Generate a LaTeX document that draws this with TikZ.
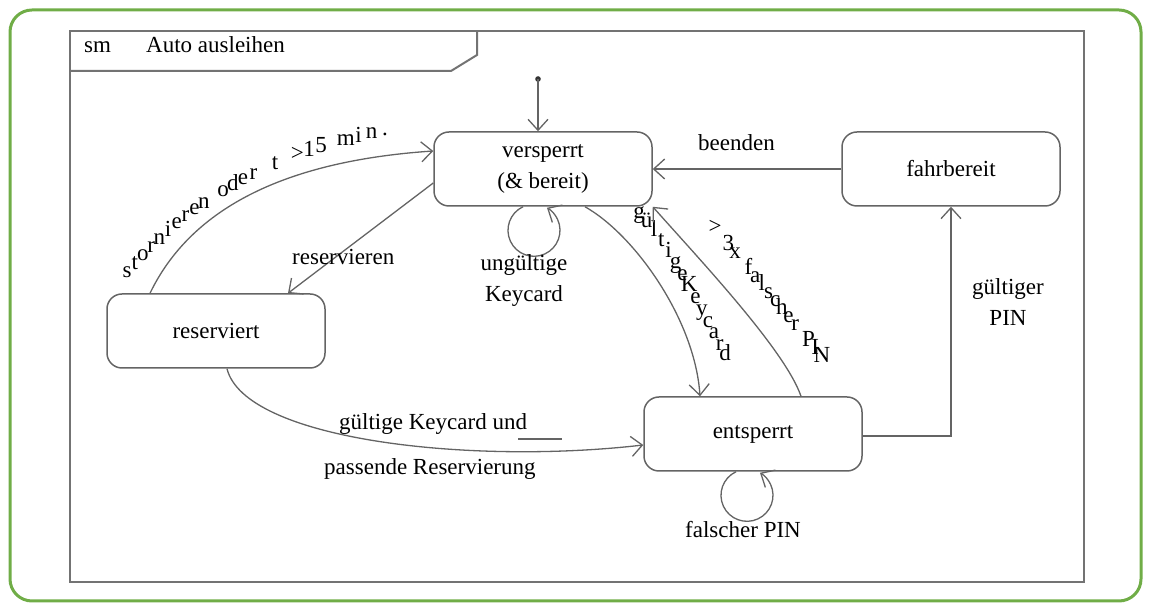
\documentclass[tikz,border=0pt]{standalone}
\usepackage{fontspec}
\setmainfont{Liberation Serif}
\usepackage{tikz}
\usetikzlibrary{arrows.meta,positioning,calc}
\definecolor{smgreen}{RGB}{112,173,71}
\definecolor{smgray}{RGB}{100,100,100}
\definecolor{smframe}{RGB}{115,115,115}
\tikzstyle{state} = [rectangle, draw=smgray, line width=1.5pt, rounded corners=15pt, minimum width=218pt, minimum height=74pt, align=center, inner sep=0pt]
\tikzstyle{trans} = [line width=1.3pt, color=smgray, -{Straight Barb[length=11pt,width=20pt]}]
\tikzstyle{lbl} = [inner sep=0pt, anchor=base west]
\tikzstyle{glyph} = [inner sep=0pt, anchor=base]

\begin{document}
\begin{tikzpicture}[x=1pt, y=1pt, font=\fontsize{23}{31}\selectfont]
    \useasboundingbox (0,0) rectangle (1153,612);

    % outer frame
    \draw[smgreen, line width=3pt, rounded corners=22pt] (10,11) rectangle (1141,602);

    % state machine frame
    \draw[smframe, line width=2pt] (70,30) rectangle (1084,581);
    \draw[smframe, line width=2pt] (70,541) -- (451,541) -- (477,557) -- (477,581);
    \node[lbl] (sm) at (84,559) {sm};
    \node[lbl] (title) at (146,559) {Auto ausleihen};

    % states
    \node[state] (vers) at (543,443) {versperrt\\(\& bereit)};
    \node[state] (fahr) at (951,443) {fahrbereit};
    \node[state] (res) at (216,281) {reserviert};
    \node[state] (ents) at (753,178) {entsperrt};

    % initial state
    \coordinate (init) at (538,533);
    \fill[black!80] (init) circle (2.8pt);
    \draw[trans] (init) -- (init |- vers.north);

    % reservieren
    \draw[trans] ($(vers.west)+(0,-14)$) -- ($(res.north)+(72,0)$);
    \node[lbl] (lblres) at (292,347) {reservieren};

    % stornieren oder t > 15 min.
    \draw[trans] ($(res.north)+(-66,0)$) .. controls (195,412) and (300,452) .. ($(vers.west)+(0,18)$);
    \path (127,334) .. controls (192,410) and (272,452) .. (385,476)
        foreach \ch [count=\i, evaluate=\i as \p using (\i-1)/25] in {s,t,o,r,n,i,e,r,e,n,{},o,d,e,r,{},t,{},>,1,5,{},m,i,n,.}
        {node[glyph, pos=\p] (st\i) {\ch}};

    % ungueltige Keycard
    \draw[trans] ($(vers.south)+(-20,0)$) arc[start angle=115, end angle=420, radius=26];
    \node[align=center] (lblung) at (524,331) {ungültige\\Keycard};

    % gueltige Keycard
    \draw[trans] ($(vers.south)+(42,0)$) .. controls (635,377) and (695,292) .. ($(ents.north)+(-53,0)$);
    \path (639,393) .. controls (672,358) and (702,297) .. (725,251)
        foreach \ch [count=\i, evaluate=\i as \p using (\i-1)/13] in {g,ü,l,t,i,g,e,K,e,y,c,a,r,d}
        {node[glyph, pos=\p] (gk\i) {\ch}};

    % > 3x falscher PIN
    \draw[trans] ($(ents.north)+(48,0)$) .. controls (785,262) and (700,352) .. (vers.south east);
    \path (715,378) -- (822,249)
        foreach \ch [count=\i, evaluate=\i as \p using (\i-1)/16] in {>,{},3,x,{},f,a,l,s,c,h,e,r,{},P,I,N}
        {node[glyph, pos=\p] (fp\i) {\ch}};

    % beenden
    \draw[trans] (fahr.west) -- (vers.east);
    \node[lbl] (lblend) at (698,461) {beenden};

    % gueltiger PIN
    \draw[trans] ($(ents.east)+(0,-2)$) -| (fahr.south);
    \node[align=center] (lblpin) at (1008,310) {gültiger\\PIN};

    % gueltige Keycard und passende Reservierung
    \draw[trans] ($(res.south)+(11,0)$) .. controls (245,172) and (470,147) .. ($(ents.west)+(0,-11)$);
    \node[lbl] (lblgk) at (339,182) {gültige Keycard und};
    \node[lbl] (lblpr) at (324,137) {passende Reservierung};
    \draw[smgray, line width=1.3pt] (518,173) -- (562,173);

    % falscher PIN
    \draw[trans] ($(ents.south)+(-17,0)$) arc[start angle=115, end angle=420, radius=26];
    \node[lbl] (lblfp) at (685,74) {falscher PIN};
\end{tikzpicture}
\end{document}
